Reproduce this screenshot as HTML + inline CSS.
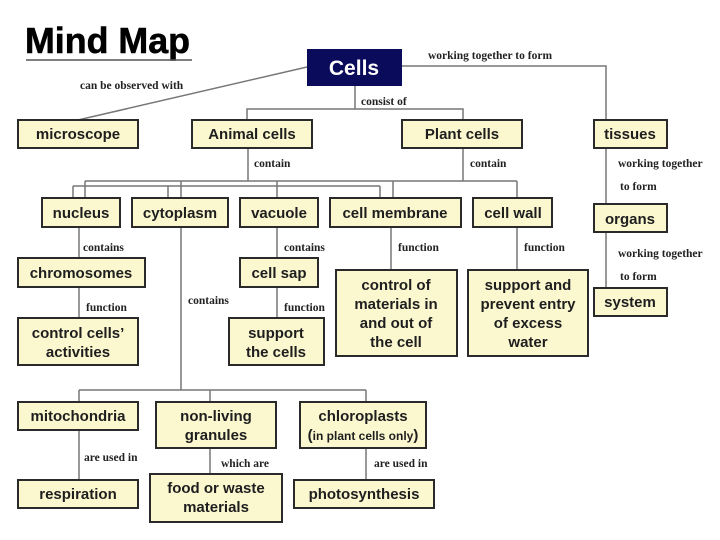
<!DOCTYPE html>
<html><head><meta charset="utf-8"><style>
html,body{margin:0;padding:0;background:#fff;}
svg{display:block;}
.b{fill:#fbf8d0;stroke:#2a2a2a;stroke-width:2;}
.t{font-family:"Liberation Sans",Arial,sans-serif;font-weight:bold;font-size:15px;fill:#1e1e1e;text-anchor:middle;}
.l{font-family:"Liberation Serif",serif;font-weight:bold;font-size:11.5px;fill:#222;}
.c{stroke:#777;stroke-width:1.5;fill:none;}
</style></head><body>
<svg width="720" height="540" viewBox="0 0 720 540" xmlns="http://www.w3.org/2000/svg">
<text x="25" y="53" font-family="Liberation Sans,Arial,sans-serif" font-weight="bold" font-size="36" fill="#000" stroke="#000" stroke-width="0.6" textLength="165" lengthAdjust="spacingAndGlyphs">Mind Map</text>
<line x1="26" y1="60" x2="192" y2="60" stroke="#555" stroke-width="1.5"/>
<g class="c">
<line x1="307" y1="67" x2="78" y2="120"/>
<polyline points="402,66 606,66 606,120"/>
<polyline points="355,86 355,109"/>
<polyline points="247,120 247,109 463,109 463,120"/>
<line x1="248" y1="148" x2="248" y2="181"/>
<line x1="463" y1="148" x2="463" y2="181"/>
<line x1="85" y1="181" x2="517" y2="181"/>
<line x1="73" y1="186" x2="380" y2="186"/>
<line x1="85" y1="181" x2="85" y2="198"/>
<line x1="73" y1="186" x2="73" y2="198"/>
<line x1="181" y1="181" x2="181" y2="198"/>
<line x1="168" y1="186" x2="168" y2="198"/>
<line x1="277" y1="181" x2="277" y2="198"/>
<line x1="380" y1="186" x2="380" y2="198"/>
<line x1="393" y1="181" x2="393" y2="198"/>
<line x1="517" y1="181" x2="517" y2="198"/>
<line x1="79" y1="227" x2="79" y2="258"/>
<line x1="79" y1="287" x2="79" y2="318"/>
<line x1="277" y1="227" x2="277" y2="258"/>
<line x1="277" y1="287" x2="277" y2="318"/>
<line x1="391" y1="227" x2="391" y2="270"/>
<line x1="517" y1="227" x2="517" y2="270"/>
<line x1="606" y1="148" x2="606" y2="204"/>
<line x1="606" y1="232" x2="606" y2="288"/>
<line x1="181" y1="227" x2="181" y2="390"/>
<line x1="79" y1="390" x2="366" y2="390"/>
<line x1="79" y1="390" x2="79" y2="402"/>
<line x1="210" y1="390" x2="210" y2="402"/>
<line x1="366" y1="390" x2="366" y2="402"/>
<line x1="79" y1="430" x2="79" y2="480"/>
<line x1="210" y1="448" x2="210" y2="474"/>
<line x1="366" y1="448" x2="366" y2="480"/>
</g>
<rect x="307" y="49" width="95" height="37" fill="#0b0b5c"/>
<text x="354" y="75" font-family="Liberation Sans,Arial,sans-serif" font-weight="bold" font-size="21" fill="#fff" text-anchor="middle">Cells</text>
<text class="l" x="80" y="89">can be observed with</text>
<text class="l" x="428" y="59">working together to form</text>
<text class="l" x="361" y="105">consist of</text>
<text class="l" x="254" y="167">contain</text>
<text class="l" x="470" y="167">contain</text>
<text class="l" x="618" y="167">working together</text>
<text class="l" x="620" y="190">to form</text>
<text class="l" x="618" y="257">working together</text>
<text class="l" x="620" y="280">to form</text>
<text class="l" x="83" y="251">contains</text>
<text class="l" x="86" y="311">function</text>
<text class="l" x="284" y="251">contains</text>
<text class="l" x="284" y="311">function</text>
<text class="l" x="398" y="251">function</text>
<text class="l" x="524" y="251">function</text>
<text class="l" x="188" y="304">contains</text>
<text class="l" x="84" y="461">are used in</text>
<text class="l" x="221" y="467">which are</text>
<text class="l" x="374" y="467">are used in</text>
<g>
<rect class="b" x="18" y="120" width="120" height="28"/><text class="t" x="78" y="139">microscope</text>
<rect class="b" x="192" y="120" width="120" height="28"/><text class="t" x="252" y="139">Animal cells</text>
<rect class="b" x="402" y="120" width="120" height="28"/><text class="t" x="462" y="139">Plant cells</text>
<rect class="b" x="594" y="120" width="73" height="28"/><text class="t" x="630" y="139">tissues</text>
<rect class="b" x="42" y="198" width="78" height="29"/><text class="t" x="81" y="218">nucleus</text>
<rect class="b" x="132" y="198" width="96" height="29"/><text class="t" x="180" y="218">cytoplasm</text>
<rect class="b" x="240" y="198" width="78" height="29"/><text class="t" x="279" y="218">vacuole</text>
<rect class="b" x="330" y="198" width="131" height="29"/><text class="t" x="395" y="218">cell membrane</text>
<rect class="b" x="473" y="198" width="79" height="29"/><text class="t" x="513" y="218">cell wall</text>
<rect class="b" x="594" y="204" width="73" height="28"/><text class="t" x="630" y="224">organs</text>
<rect class="b" x="18" y="258" width="127" height="29"/><text class="t" x="81" y="278">chromosomes</text>
<rect class="b" x="240" y="258" width="78" height="29"/><text class="t" x="279" y="278">cell sap</text>
<rect class="b" x="18" y="318" width="120" height="47"/><text class="t" x="78" y="338">control cells’</text><text class="t" x="78" y="357">activities</text>
<rect class="b" x="229" y="318" width="95" height="47"/><text class="t" x="276" y="338">support</text><text class="t" x="276" y="357">the cells</text>
<rect class="b" x="336" y="270" width="121" height="86"/><text class="t" x="396" y="290">control of</text><text class="t" x="396" y="309">materials in</text><text class="t" x="396" y="328">and out of</text><text class="t" x="396" y="347">the cell</text>
<rect class="b" x="468" y="270" width="120" height="86"/><text class="t" x="528" y="290">support and</text><text class="t" x="528" y="309">prevent entry</text><text class="t" x="528" y="328">of excess</text><text class="t" x="528" y="347">water</text>
<rect class="b" x="594" y="288" width="73" height="28"/><text class="t" x="630" y="307">system</text>
<rect class="b" x="18" y="402" width="120" height="28"/><text class="t" x="78" y="421">mitochondria</text>
<rect class="b" x="156" y="402" width="120" height="46"/><text class="t" x="216" y="421">non-living</text><text class="t" x="216" y="440">granules</text>
<rect class="b" x="300" y="402" width="126" height="46"/><text class="t" x="363" y="421">chloroplasts</text><text class="t" x="363" y="440"><tspan font-size="15">(</tspan><tspan font-size="12">in plant cells only</tspan><tspan font-size="15">)</tspan></text>
<rect class="b" x="18" y="480" width="120" height="28"/><text class="t" x="78" y="499">respiration</text>
<rect class="b" x="150" y="474" width="132" height="48"/><text class="t" x="216" y="493">food or waste</text><text class="t" x="216" y="512">materials</text>
<rect class="b" x="294" y="480" width="140" height="28"/><text class="t" x="364" y="499">photosynthesis</text>
</g>
</svg>
</body></html>
